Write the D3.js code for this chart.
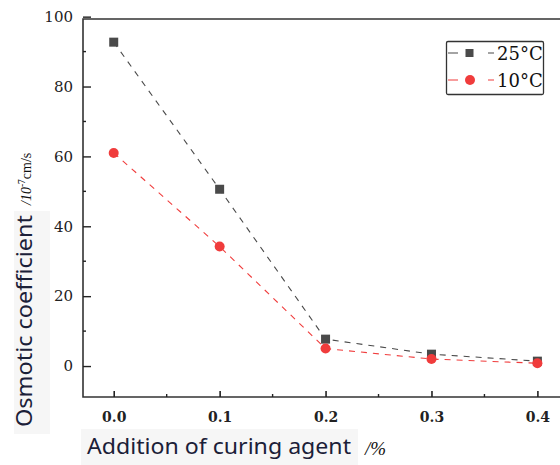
<!DOCTYPE html>
<html>
<head>
<meta charset="utf-8">
<script src="https://cdn.jsdelivr.net/npm/d3@7"></script>
<style>
  body { margin: 0; background: #fff; }
  svg { display: block; }
</style>
</head>
<body>
<div id="plot"></div>
<script>
// data
const additions = [0.0, 0.1, 0.2, 0.3, 0.4]
const minus25 = [92.7, 50.6, 7.7, 3.4, 1.4]
const minus10 = [61.0, 34.2, 5.0, 2.0, 0.8]
const seriesNames = ['25°C', '10°C']
const xTicks = [0.0, 0.1, 0.2, 0.3, 0.4]
const yTicks = [0, 20, 40, 60, 80, 100]

const colors = ['#4a4a4a', '#f03c3c']

const W = 560, H = 465
const margin = {left: 83, right: 566, top: 17, bottom: 397}

const svg = d3.select('#plot').append('svg')
  .attr('width', W)
  .attr('height', H)

const x = d3.scaleLinear().domain([-0.029, 0.427]).range([margin.left, margin.right])
const y = d3.scaleLinear().domain([-8.86, 99.9]).range([margin.bottom, margin.top])

// frame
svg.append('path')
  .attr('d', `M${margin.right},${margin.top + 2}H${margin.left}V${margin.bottom}H${margin.right}`)
  .attr('fill', 'none')
  .attr('stroke', '#333')
  .attr('stroke-width', 1.6)

// x axis (ticks point inward)
const xAxis = svg.append('g')
  .attr('transform', `translate(0,${margin.bottom})`)
  .call(d3.axisBottom(x).tickValues(xTicks).tickFormat(d3.format('.1f')).tickSizeInner(-6).tickSizeOuter(0).tickPadding(15))
xAxis.select('.domain').remove()
xAxis.selectAll('line').attr('stroke', '#222').attr('stroke-width', 1.6)
xAxis.selectAll('text')
  .style('font-family', '"DejaVu Serif", serif')
  .style('font-size', '14px')
  .style('font-weight', 'bold')
  .attr('fill', '#222')
svg.append('g').selectAll('line')
  .data([0.05, 0.15, 0.25, 0.35])
  .join('line')
    .attr('x1', d => x(d)).attr('x2', d => x(d))
    .attr('y1', margin.bottom).attr('y2', margin.bottom - 3)
    .attr('stroke', '#222').attr('stroke-width', 1.4)

// y axis
const yAxis = svg.append('g')
  .attr('transform', `translate(${margin.left},0)`)
  .call(d3.axisLeft(y).tickValues(yTicks).tickSizeInner(-8).tickSizeOuter(0).tickPadding(10))
yAxis.select('.domain').remove()
yAxis.selectAll('line').attr('stroke', '#222').attr('stroke-width', 1.4)
yAxis.selectAll('text')
  .style('font-family', '"DejaVu Serif", serif')
  .style('font-size', '15px')
  .attr('fill', '#222')
svg.append('g').selectAll('line')
  .data([10, 30, 50, 70, 90])
  .join('line')
    .attr('y1', d => y(d)).attr('y2', d => y(d))
    .attr('x1', margin.left).attr('x2', margin.left + 3)
    .attr('stroke', '#222').attr('stroke-width', 1.4)

// lines + markers
const series = [minus25, minus10]
const line = d3.line().x((d, i) => x(additions[i])).y(d => y(d))

series.forEach((vals, s) => {
  svg.append('path')
    .attr('d', line(vals))
    .attr('fill', 'none')
    .attr('stroke', colors[s])
    .attr('stroke-width', 1.1)
    .attr('stroke-dasharray', '6,6')
})
// squares
svg.append('g').selectAll('rect')
  .data(minus25)
  .join('rect')
    .attr('x', (d, i) => x(additions[i]) - 4.5)
    .attr('y', d => y(d) - 4.5)
    .attr('width', 9).attr('height', 9)
    .attr('fill', colors[0])
// circles
svg.append('g').selectAll('circle')
  .data(minus10)
  .join('circle')
    .attr('cx', (d, i) => x(additions[i]))
    .attr('cy', d => y(d))
    .attr('r', 5)
    .attr('fill', colors[1])

// legend
const lg = svg.append('g')
lg.append('rect')
  .attr('x', 446.5).attr('y', 41.5)
  .attr('width', 97).attr('height', 53)
  .attr('rx', 1.5)
  .attr('fill', '#fff')
  .attr('stroke', '#333')
  .attr('stroke-width', 1.3)
seriesNames.forEach((name, i) => {
  const cy = 53 + i * 27
  lg.append('line')
    .attr('x1', 448).attr('x2', 495)
    .attr('y1', cy).attr('y2', cy)
    .attr('stroke', colors[i])
    .attr('stroke-width', 1.1)
    .attr('stroke-dasharray', '10,30,6')
  if (i === 0) {
    lg.append('rect').attr('x', 465.5).attr('y', cy - 4).attr('width', 8).attr('height', 8).attr('fill', colors[0])
  } else {
    lg.append('circle').attr('cx', 470).attr('cy', cy).attr('r', 5).attr('fill', colors[1])
  }
  lg.append('text')
    .attr('x', 497).attr('y', cy + 6.5)
    .style('font-family', '"DejaVu Serif", serif')
    .style('font-size', '18px')
    .attr('fill', '#111')
    .text(name)
})

// axis titles
svg.append('rect')
  .attr('x', 14).attr('y', 211).attr('width', 36).attr('height', 223)
  .attr('fill', '#f6f6f6')
svg.append('text')
  .attr('transform', 'translate(32,427) rotate(-90)')
  .style('font-family', '"Noto Sans", sans-serif')
  .style('font-size', '21px')
  .attr('fill', '#1b2038')
  .attr('textLength', 212)
  .attr('lengthAdjust', 'spacingAndGlyphs')
  .text('Osmotic coefficient')
const unitY = svg.append('text')
  .attr('transform', 'translate(31,205) rotate(-90)')
  .style('font-family', '"Liberation Serif", serif')
  .style('font-size', '14px')
  .attr('fill', '#111')
unitY.append('tspan').style('font-style', 'italic').text('/10')
unitY.append('tspan').attr('dy', -6).style('font-size', '9.5px').text('-7')
unitY.append('tspan').attr('dy', 6).text('cm/s')

svg.append('rect')
  .attr('x', 81).attr('y', 429).attr('width', 277).attr('height', 36)
  .attr('fill', '#f6f6f6')
svg.append('text')
  .attr('x', 87).attr('y', 454)
  .style('font-family', '"Noto Sans", sans-serif')
  .style('font-size', '21px')
  .attr('fill', '#1b2038')
  .attr('textLength', 264)
  .attr('lengthAdjust', 'spacingAndGlyphs')
  .text('Addition of curing agent')
svg.append('text')
  .attr('x', 365).attr('y', 455)
  .style('font-family', '"Liberation Serif", serif')
  .style('font-size', '19px')
  .style('font-style', 'italic')
  .attr('fill', '#111')
  .text('/%')
</script>
</body>
</html>
